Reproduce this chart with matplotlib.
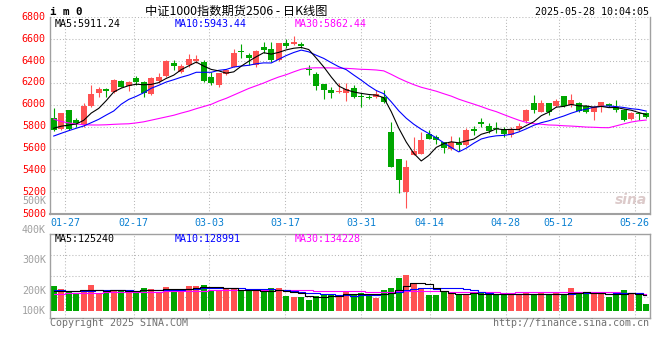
import matplotlib
matplotlib.use("Agg")
import matplotlib.pyplot as plt
import matplotlib.transforms as mtransforms
import numpy as np

# IM2506 daily bars, 2025-01-23 .. 2025-05-28 (80 sessions)
date_labels = ['01-27', '02-17', '03-03', '03-17', '03-31', '04-14', '04-28', '05-12', '05-26']
date_index = [2, 11, 21, 31, 41, 50, 60, 67, 77]

opens = [5880, 5777, 5953, 5862, 5816, 5990, 6111, 6142, 6121, 6221,
         6173, 6243, 6212, 6100, 6221, 6264, 6380, 6304, 6365, 6399,
         6395, 6258, 6182, 6280, 6349, 6495, 6456, 6365, 6532, 6511,
         6411, 6563, 6557, 6557, 6324, 6280, 6191, 6136, 6115, 6111,
         6152, 6080, 6075, 6069, 6075, 5755, 5505, 5206, 5541, 5551,
         5733, 5703, 5663, 5594, 5654, 5633, 5775, 5846, 5807, 5790,
         5776, 5724, 5779, 5855, 6014, 5938, 6014, 5992, 6081, 6000,
         6020, 5990, 5932, 5983, 6008, 5983, 5953, 5871, 5925, 5923]
highs = [5971, 5930, 5955, 5877, 6014, 6182, 6166, 6157, 6234, 6228,
         6221, 6264, 6221, 6252, 6289, 6411, 6411, 6374, 6466, 6456,
         6411, 6304, 6294, 6325, 6508, 6560, 6472, 6502, 6578, 6578,
         6570, 6600, 6630, 6578, 6365, 6304, 6191, 6166, 6197, 6197,
         6182, 6106, 6090, 6136, 6136, 5846, 5505, 5496, 5709, 5755,
         5770, 5724, 5663, 5715, 5709, 5791, 5807, 5877, 5837, 5846,
         5795, 5795, 5837, 5959, 6090, 6044, 6014, 6051, 6081, 6099,
         6029, 5999, 5990, 6023, 6020, 6044, 5959, 5938, 5938, 5932]
lows = [5765, 5770, 5770, 5795, 5795, 5983, 6075, 6075, 6111, 6161,
        6130, 6182, 6069, 6090, 6197, 6258, 6319, 6289, 6349, 6386,
        6212, 6182, 6166, 6270, 6344, 6430, 6365, 6349, 6477, 6395,
        6400, 6520, 6548, 6518, 6273, 6136, 6054, 6060, 6106, 6038,
        6060, 5983, 6050, 6060, 6014, 5434, 5196, 5054, 5541, 5551,
        5685, 5639, 5557, 5587, 5581, 5626, 5724, 5800, 5745, 5745,
        5703, 5703, 5764, 5837, 5923, 5932, 5907, 5978, 5983, 5978,
        5938, 5923, 5862, 5938, 5978, 5938, 5855, 5862, 5862, 5877]
closes = [5770, 5928, 5777, 5831, 5990, 6100, 6142, 6130, 6228, 6166,
          6212, 6207, 6106, 6243, 6252, 6401, 6358, 6356, 6420, 6420,
          6221, 6203, 6289, 6319, 6477, 6484, 6426, 6496, 6502, 6411,
          6563, 6541, 6573, 6539, 6315, 6173, 6136, 6111, 6127, 6142,
          6075, 6070, 6060, 6097, 6029, 5434, 5313, 5429, 5581, 5679,
          5685, 5679, 5603, 5663, 5633, 5770, 5765, 5822, 5764, 5782,
          5731, 5779, 5807, 5953, 5953, 6014, 5938, 6035, 5990, 6044,
          5947, 5932, 5983, 6023, 5990, 5953, 5862, 5928, 5918, 5892]

ma5 = [5786, 5805, 5815, 5825, 5859, 5925, 5968, 6039, 6118, 6153,
       6176, 6189, 6184, 6187, 6204, 6242, 6272, 6322, 6357, 6391,
       6355, 6324, 6311, 6290, 6302, 6354, 6399, 6440, 6477, 6464,
       6480, 6503, 6518, 6525, 6506, 6428, 6347, 6255, 6172, 6138,
       6118, 6105, 6095, 6089, 6066, 5938, 5787, 5660, 5557, 5487,
       5537, 5611, 5645, 5662, 5653, 5670, 5687, 5731, 5751, 5781,
       5773, 5776, 5773, 5810, 5845, 5901, 5933, 5979, 5986, 6004,
       5991, 5990, 5979, 5986, 5975, 5976, 5962, 5951, 5930, 5911]
ma10 = [5715, 5740, 5764, 5786, 5807, 5837, 5868, 5907, 5944, 6006,
        6050, 6078, 6111, 6152, 6179, 6209, 6230, 6253, 6272, 6298,
        6298, 6298, 6316, 6324, 6346, 6355, 6362, 6376, 6384, 6383,
        6417, 6451, 6479, 6501, 6485, 6454, 6425, 6386, 6349, 6322,
        6273, 6226, 6175, 6131, 6102, 6028, 5946, 5878, 5823, 5777,
        5738, 5699, 5653, 5610, 5570, 5604, 5649, 5688, 5706, 5717,
        5721, 5731, 5752, 5781, 5813, 5837, 5854, 5876, 5898, 5924,
        5946, 5961, 5979, 5986, 5990, 5984, 5976, 5965, 5958, 5943]
ma30 = [5870, 5848, 5835, 5825, 5818, 5816, 5816, 5818, 5822, 5825,
        5827, 5835, 5845, 5860, 5875, 5890, 5905, 5925, 5943, 5965,
        5985, 6005, 6035, 6060, 6090, 6120, 6150, 6175, 6200, 6229,
        6255, 6276, 6302, 6326, 6337, 6339, 6339, 6338, 6335, 6334,
        6330, 6325, 6323, 6319, 6311, 6279, 6244, 6213, 6185, 6161,
        6143, 6125, 6102, 6080, 6052, 6029, 6007, 5984, 5959, 5938,
        5911, 5885, 5860, 5840, 5828, 5823, 5816, 5814, 5809, 5806,
        5802, 5797, 5795, 5792, 5791, 5808, 5826, 5843, 5854, 5861]

# volume in thousands of lots
vol_k = [197, 173, 152, 144, 165, 205, 144, 144, 165, 165,
         158, 158, 181, 173, 152, 189, 165, 173, 197, 197,
         205, 165, 165, 173, 181, 158, 158, 158, 152, 181,
         181, 121, 110, 110, 87, 121, 134, 134, 113, 147,
         134, 144, 121, 105, 165, 184, 262, 284, 210, 179,
         126, 126, 147, 147, 134, 126, 139, 139, 139, 131,
         126, 126, 126, 150, 126, 139, 126, 139, 126, 184,
         150, 131, 131, 131, 113, 145, 165, 135, 125, 55]
vma5 = [160, 158, 155, 160, 166, 168, 162, 160, 165, 165,
        155, 158, 165, 167, 164, 171, 172, 170, 175, 184,
        187, 187, 186, 181, 178, 168, 167, 166, 161, 161,
        166, 159, 149, 141, 122, 110, 112, 117, 118, 130,
        132, 134, 132, 130, 134, 144, 167, 200, 221, 224,
        212, 185, 158, 145, 136, 136, 139, 137, 135, 135,
        135, 132, 130, 132, 131, 133, 133, 136, 131, 143,
        145, 146, 144, 145, 131, 130, 137, 138, 137, 125]
vma10 = [162, 162, 160, 160, 158, 160, 162, 163, 164, 165,
         162, 160, 163, 166, 165, 163, 165, 168, 171, 174,
         179, 180, 178, 178, 181, 178, 177, 176, 171, 170,
         167, 163, 157, 151, 142, 138, 136, 133, 129, 126,
         121, 123, 125, 124, 132, 138, 151, 166, 176, 179,
         178, 176, 179, 183, 180, 174, 162, 147, 140, 135,
         135, 135, 133, 134, 133, 134, 133, 133, 132, 137,
         139, 140, 140, 138, 137, 138, 142, 141, 141, 128]
vma30 = [135, 136, 138, 140, 142, 144, 145, 146, 147, 148,
         149, 150, 151, 152, 153, 155, 156, 158, 159, 160,
         161, 162, 163, 164, 165, 166, 167, 168, 169, 170,
         169, 168, 166, 165, 162, 160, 159, 159, 157, 157,
         156, 155, 153, 151, 151, 151, 155, 158, 159, 158,
         155, 154, 154, 153, 151, 150, 149, 149, 148, 147,
         145, 145, 146, 147, 148, 149, 149, 149, 149, 150,
         151, 150, 151, 152, 150, 149, 145, 140, 138, 133]

price_ticks = [5000, 5200, 5400, 5600, 5800, 6000, 6200, 6400, 6600, 6800]
vol_tick_labels = ['500K', '400K', '300K', '200K', '100K']

RED = '#ff5252'
GREEN = '#00a600'
GRID = '#b8b8b8'
FRAME = '#a0a0a0'
MONO = 'DejaVu Sans Mono'
CJK = ['Noto Sans CJK SC', 'DejaVu Sans']
FS = 7.2

W, H = 660.0, 360.0


def fx(px):
    return px / W


def fy(py):
    return 1 - py / H


fig = plt.figure(figsize=(6.6, 3.6), dpi=100)
fig.patch.set_facecolor('white')
ax = fig.add_axes([fx(50), fy(214.2), 600 / W, (214.2 - 17.4) / H])
axv = fig.add_axes([fx(50), fy(318.3), 600 / W, (318.3 - 234.3) / H], sharex=ax)

x = np.arange(len(closes))
o = np.array(opens, float)
c = np.array(closes, float)
cols = np.where(c >= o, RED, GREEN)

# candles
ax.vlines(x, lows, highs, colors=cols, linewidth=0.8, zorder=2)
ax.bar(x, np.maximum(np.abs(c - o), 9), bottom=np.minimum(o, c), width=0.8,
       color=cols, linewidth=0, zorder=3)
ax.plot(x, ma30, color='#ff00ff', lw=0.8, zorder=4)
ax.plot(x, ma10, color='#0000ff', lw=0.8, zorder=4)
ax.plot(x, ma5, color='black', lw=0.8, zorder=4)

# sina puts its date grid on a slightly wider step than the bars
tick_pos = [i * 80 / 79 - 0.5 for i in date_index]

ax.set_xlim(-0.5, 79.5)
ax.set_ylim(5000, 6800)
ax.set_yticks(price_ticks)
ax.set_yticklabels([str(p) for p in price_ticks], color='#ff0000', family=MONO, fontsize=FS)
ax.set_xticks(tick_pos)
ax.set_xticklabels(date_labels, color='#0a80d2', family=MONO, fontsize=FS)
ax.tick_params(axis='both', length=0)
ax.tick_params(axis='y', pad=3)
ax.tick_params(axis='x', pad=3)
# price labels sit a little above their grid lines
lift = mtransforms.ScaledTranslation(0, 1.6 / 100, fig.dpi_scale_trans)
for lab in ax.get_yticklabels():
    lab.set_transform(lab.get_transform() + lift)
ax.grid(True, color=GRID, linestyle=(0, (1, 2)), linewidth=0.75)
ax.set_axisbelow(True)
for s in ['left', 'right', 'bottom']:
    ax.spines[s].set_color(FRAME)
    ax.spines[s].set_linewidth(1.0)
ax.spines['bottom'].set_linewidth(1.5)
ax.spines['top'].set_visible(False)

# volume
axv.bar(x, vol_k, width=0.8, color=cols, linewidth=0, zorder=2)
axv.plot(x, vma30, color='#ff00ff', lw=0.8, drawstyle='steps-mid', zorder=3)
axv.plot(x, vma10, color='#0000ff', lw=0.8, drawstyle='steps-mid', zorder=3)
axv.plot(x, vma5, color='black', lw=0.8, drawstyle='steps-mid', zorder=3)
axv.set_ylim(-57.5, 604)
axv.set_yticks([])
axv.tick_params(axis='x', length=0, labelbottom=False)
axv.grid(True, axis='x', color=GRID, linestyle=(0, (1, 2)), linewidth=0.75)
for f in (0.25, 0.5, 0.75):
    axv.plot([0, 1], [f, f], transform=axv.transAxes, color=GRID,
             linestyle=(0, (1, 2)), linewidth=0.75, zorder=1)
axv.set_axisbelow(True)
for s in axv.spines.values():
    s.set_color(FRAME)
    s.set_linewidth(1.0)

for lab, py in zip(vol_tick_labels, [200.5, 230, 260, 290.7, 310.7]):
    fig.text(fx(46), fy(py), lab, ha='right', va='center', color='#a0a0a0',
             family=MONO, fontsize=FS)

# legends
fig.text(fx(55), fy(24), 'MA5:5911.24', color='black', family=MONO, fontsize=FS, va='center')
fig.text(fx(175), fy(24), 'MA10:5943.44', color='#0000ff', family=MONO, fontsize=FS, va='center')
fig.text(fx(295), fy(24), 'MA30:5862.44', color='#ff00ff', family=MONO, fontsize=FS, va='center')
fig.text(fx(55), fy(238.7), 'MA5:125240', color='black', family=MONO, fontsize=FS, va='center')
fig.text(fx(175), fy(238.7), 'MA10:128991', color='#0000ff', family=MONO, fontsize=FS, va='center')
fig.text(fx(295), fy(238.7), 'MA30:134228', color='#ff00ff', family=MONO, fontsize=FS, va='center')

# header / footer
fig.text(fx(50), fy(12), 'i m 0', color='black', family=MONO, fontsize=7.8,
         fontweight='bold', va='center')
fig.text(fx(236), fy(11), '中证1000指数期货2506 - 日K线图', color='black',
         family=CJK, fontsize=8.8, ha='center', va='center')
fig.text(fx(649), fy(12), '2025-05-28 10:04:05', color='black', family=MONO,
         fontsize=FS, ha='right', va='center')
fig.text(fx(50), fy(323), 'Copyright 2025 SINA.COM', color='#707070', family=MONO,
         fontsize=FS, va='center')
fig.text(fx(649), fy(323), 'http://finance.sina.com.cn', color='#707070', family=MONO,
         fontsize=FS, ha='right', va='center')
ax.text(0.995, 0.07, 'sina', transform=ax.transAxes, ha='right', va='center',
        color='#dccaca', fontsize=10, fontweight='bold', style='italic', zorder=1)

fig.savefig('out.png', dpi=100, facecolor='white')
